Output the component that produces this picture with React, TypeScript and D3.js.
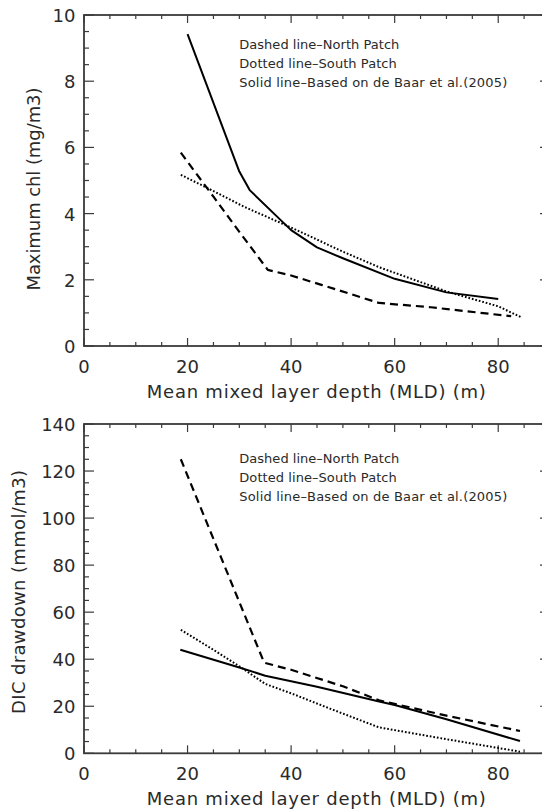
import React from "react";
import * as d3 from "d3";

// ---- Data ----
const xTicks = [0, 20, 40, 60, 80];
const xMinorStep = 5;

// Top panel: Maximum chl (mg/m3)
const chlTicks = [0, 2, 4, 6, 8, 10];
const chlNorthX = [18.7, 25, 30, 35.5, 40, 46, 57, 67, 82.5];
const chlNorthY = [5.84, 4.51, 3.45, 2.3, 2.13, 1.84, 1.3, 1.17, 0.9];
const chlSouthX = [18.7, 24, 31, 40, 50, 57, 70, 80, 84.4];
const chlSouthY = [5.17, 4.76, 4.2, 3.58, 2.85, 2.38, 1.65, 1.2, 0.87];
const chlBaarX = [20, 30, 32, 40, 45, 50, 60, 70, 80];
const chlBaarY = [9.42, 5.27, 4.71, 3.5, 2.98, 2.65, 2.03, 1.62, 1.42];

// Bottom panel: DIC drawdown (mmol/m3)
const dicTicks = [0, 20, 40, 60, 80, 100, 120, 140];
const dicNorthX = [18.7, 34.8, 40, 50, 57, 70, 84.2];
const dicNorthY = [125, 38.5, 35.5, 28.5, 22.5, 16, 9.5];
const dicSouthX = [18.7, 25, 30, 35, 40, 47.5, 57, 70, 84.2];
const dicSouthY = [52.5, 44, 37, 29.5, 25.5, 19, 11, 6, 0.7];
const dicBaarX = [18.6, 30, 35, 45, 57, 60, 70, 84.2];
const dicBaarY = [44, 36.5, 33, 28.3, 22, 20.5, 14.5, 5.2];

const legendLines = [
  "Dashed line\u2013North Patch",
  "Dotted line\u2013South Patch",
  "Solid line\u2013Based on de Baar et al.(2005)",
];
const legendLengths = [160, 157.5, 268];
const xTitle = "Mean mixed layer depth (MLD) (m)";

const FONT = "'DejaVu Sans', sans-serif";
const AXIS = "#3a3a3a";
const TEXT = "#2a2a2a";

type Series = { xs: number[]; ys: number[]; dash: string; width: number };

type PanelProps = {
  top: number;
  bottom: number;
  yMax: number;
  yTicks: number[];
  yMinor: number;
  yTitle: string;
  yTitleX: number;
  yTitleY: number;
  yTitleLen: number;
  series: Series[];
  legendTop: number;
};

const LEFT = 84;
const RIGHT = 550;

function Panel(p: PanelProps) {
  const x = d3.scaleLinear().domain([0, 90]).range([LEFT, RIGHT]);
  const y = d3.scaleLinear().domain([0, p.yMax]).range([p.bottom, p.top]);
  const line = d3
    .line<[number, number]>()
    .x((d) => x(d[0]))
    .y((d) => y(d[1]));
  const xMinor = d3.range(0, 90 + 0.001, xMinorStep);
  const yMinor = d3.range(0, p.yMax + 0.001, p.yMinor);
  const isMajorX = (v: number) => xTicks.includes(v);
  const isMajorY = (v: number) => p.yTicks.some((t) => Math.abs(t - v) < 1e-6);
  return (
    <g>
      <rect
        x={LEFT}
        y={p.top}
        width={RIGHT - LEFT}
        height={p.bottom - p.top}
        fill="none"
        stroke={AXIS}
        strokeWidth={1.8}
      />
      {xMinor.map((v) => {
        const len = isMajorX(v) ? 8 : 4;
        return (
          <g key={"xt" + v}>
            <line x1={x(v)} x2={x(v)} y1={p.bottom} y2={p.bottom - len} stroke={AXIS} strokeWidth={1.2} />
            <line x1={x(v)} x2={x(v)} y1={p.top} y2={p.top + len} stroke={AXIS} strokeWidth={1.2} />
          </g>
        );
      })}
      {yMinor.map((v) => {
        const len = isMajorY(v) ? 10 : 5;
        return (
          <g key={"yt" + v}>
            <line x1={LEFT} x2={LEFT + len} y1={y(v)} y2={y(v)} stroke={AXIS} strokeWidth={1.2} />
            <line x1={RIGHT} x2={RIGHT - len} y1={y(v)} y2={y(v)} stroke={AXIS} strokeWidth={1.2} />
          </g>
        );
      })}
      {xTicks.map((v) => (
        <text
          key={"xl" + v}
          x={x(v)}
          y={p.bottom + 27}
          textAnchor="middle"
          fontSize={18}
          fontFamily={FONT}
          fill={TEXT}
        >
          {v}
        </text>
      ))}
      {p.yTicks.map((v) => (
        <text
          key={"yl" + v}
          x={LEFT - 8.5}
          y={y(v) + 7}
          textAnchor="end"
          fontSize={18}
          fontFamily={FONT}
          fill={TEXT}
        >
          {v}
        </text>
      ))}
      <text
        x={316.3}
        y={p.bottom + 52}
        textAnchor="middle"
        fontSize={18}
        fontFamily={FONT}
        fill={TEXT}
        textLength={339}
      >
        {xTitle}
      </text>
      <text
        transform={`translate(${p.yTitleX},${p.yTitleY}) rotate(-90)`}
        textAnchor="middle"
        fontSize={18}
        fontFamily={FONT}
        fill={TEXT}
        textLength={p.yTitleLen}
      >
        {p.yTitle}
      </text>
      {legendLines.map((t, i) => (
        <text
          key={"lg" + i}
          x={239.3}
          y={p.legendTop + i * 19}
          fontSize={13}
          fontFamily={FONT}
          fill={TEXT}
          textLength={legendLengths[i]}
        >
          {t}
        </text>
      ))}
      {p.series.map((s, i) => (
        <path
          key={"s" + i}
          d={line(s.xs.map((v, j) => [v, s.ys[j]] as [number, number])) || ""}
          fill="none"
          stroke="#000"
          strokeWidth={s.width}
          strokeDasharray={s.dash}
          strokeLinejoin="round"
        />
      ))}
    </g>
  );
}

export default function App() {
  React.useEffect(() => {
    document.body.style.margin = "0";
  }, []);
  const dashed = "8 5";
  const dotted = "1.7 1.9";
  return (
    <svg
      width={542}
      height={809}
      style={{ position: "absolute", left: 0, top: 0, background: "#fff", overflow: "hidden" }}
    >
      <rect x={0} y={0} width={542} height={809} fill="#fff" />
      <Panel
        top={15}
        bottom={346}
        yMax={10}
        yTicks={chlTicks}
        yMinor={0.5}
        yTitle="Maximum chl (mg/m3)"
        yTitleX={40}
        yTitleY={189}
        yTitleLen={203}
        legendTop={49}
        series={[
          { xs: chlNorthX, ys: chlNorthY, dash: dashed, width: 2.2 },
          { xs: chlSouthX, ys: chlSouthY, dash: dotted, width: 2 },
          { xs: chlBaarX, ys: chlBaarY, dash: "none", width: 2 },
        ]}
      />
      <Panel
        top={424}
        bottom={753.3}
        yMax={140}
        yTicks={dicTicks}
        yMinor={5}
        yTitle="DIC drawdown (mmol/m3)"
        yTitleX={25}
        yTitleY={592}
        yTitleLen={244}
        legendTop={463}
        series={[
          { xs: dicNorthX, ys: dicNorthY, dash: dashed, width: 2.2 },
          { xs: dicSouthX, ys: dicSouthY, dash: dotted, width: 2 },
          { xs: dicBaarX, ys: dicBaarY, dash: "none", width: 2 },
        ]}
      />
    </svg>
  );
}
